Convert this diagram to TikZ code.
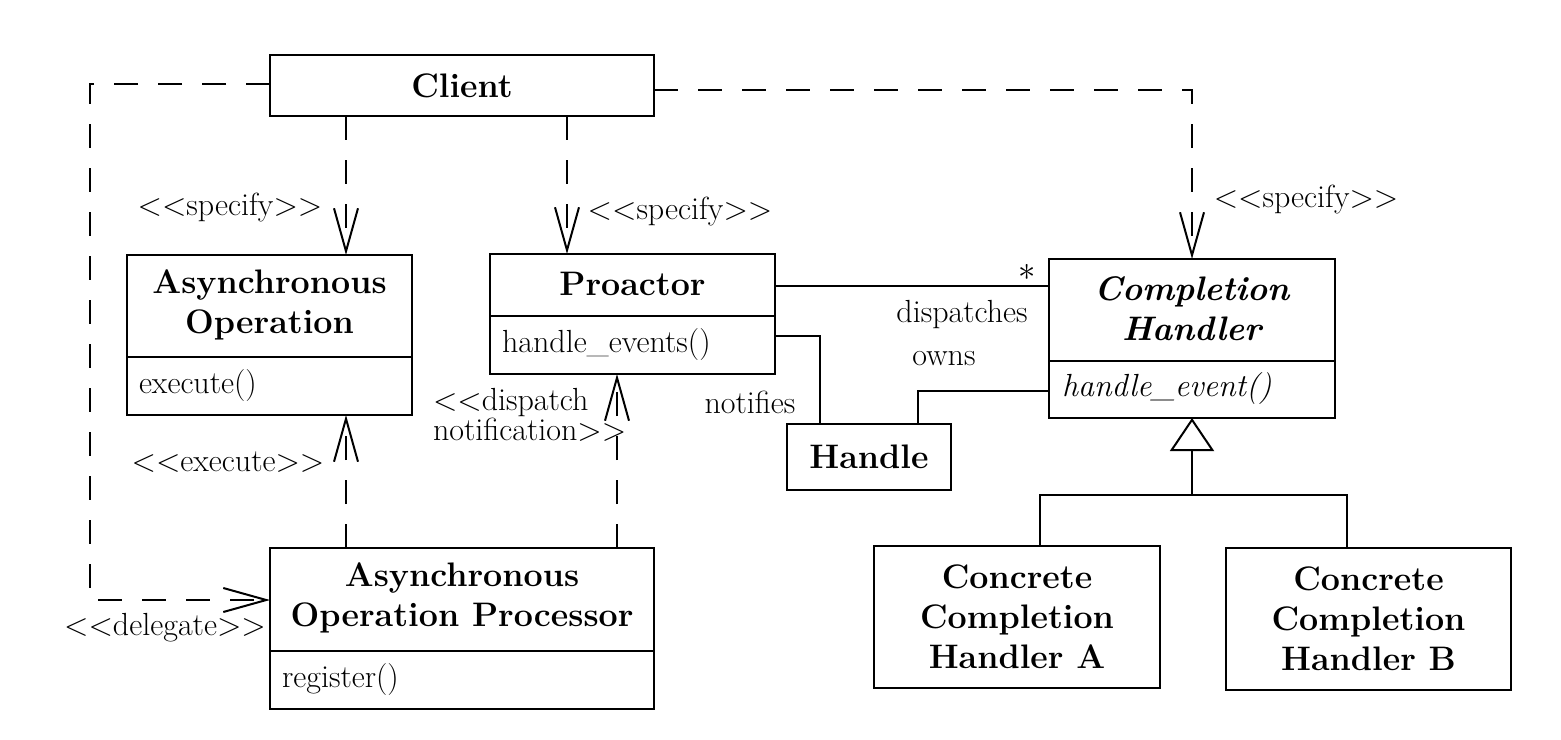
\documentclass[tikz,border=0pt]{standalone}
\usepackage{fontspec}
\usetikzlibrary{arrows.meta}
\newcommand\LLt{<\kern0pt<}
\newcommand\GGt{>\kern0pt>}
\begin{document}
\begin{tikzpicture}[x=0.5pt,y=-0.5pt,line width=1pt,
  box/.style={draw,line width=1pt,inner sep=0pt,outer sep=0pt},
  ttl/.style={font=\fontsize{17}{20}\selectfont\bfseries,align=center,inner sep=0pt},
  ittl/.style={font=\fontsize{17}{20}\selectfont\bfseries\itshape,align=center,inner sep=0pt},
  mth/.style={font=\fontsize{16}{19}\selectfont,anchor=west,inner sep=0pt},
  lbl/.style={font=\fontsize{16}{19}\selectfont,inner sep=0pt},
  dep/.style={dash pattern=on 12pt off 10pt,-{Straight Barb[length=21.5pt,width=12pt]}},
  gen/.style={-{Triangle[open,length=16.5pt,width=22pt,fill=white]}}]
\useasboundingbox (0,0) rectangle (1561,739);
% boxes
\node[box,minimum width=192pt,minimum height=30.5pt] (client) at (462,85.5) {};
\node[ttl] (clientT) at (client.center) {Client};
\node[box,minimum width=142.5pt,minimum height=80pt] (asop) at (269.5,335) {};
\node[ttl] (asopT) at (269.5,305) {Asynchronous\\Operation};
\draw ([yshift=-51pt]asop.north west) -- ([yshift=-51pt]asop.north east);
\node[mth] (asopM) at (138,386) {execute()};
\node[box,minimum width=142.5pt,minimum height=60pt] (proactor) at (632.5,314) {};
\node[ttl] (proactorT) at (632.5,284) {Proactor};
\draw ([yshift=-31pt]proactor.north west) -- ([yshift=-31pt]proactor.north east);
\node[mth] (proactorM) at (501,345) {handle\_events()};
\node[box,minimum width=143pt,minimum height=79.5pt] (compH) at (1192,338.5) {};
\node[ittl] (compHT) at (1192,308.5) {Completion\\Handler};
\draw ([yshift=-51pt]compH.north west) -- ([yshift=-51pt]compH.north east);
\node[mth,font=\fontsize{16}{19}\selectfont\itshape] (compHM) at (1061,389) {handle\_event()};
\node[box,minimum width=82pt,minimum height=33pt] (handle) at (869,457) {};
\node[ttl] (handleT) at (handle.center) {Handle};
\node[box,minimum width=192pt,minimum height=80.5pt] (aop) at (462,628.5) {};
\node[ttl] (aopT) at (462,598) {Asynchronous\\Operation Processor};
\draw ([yshift=-51.5pt]aop.north west) -- ([yshift=-51.5pt]aop.north east);
\node[mth] (aopM) at (281,680) {register()};
\node[box,minimum width=143pt,minimum height=71pt] (ccha) at (1017,617) {};
\node[ttl] (cchaT) at (ccha.center) {Concrete\\Completion\\Handler A};
\node[box,minimum width=142.5pt,minimum height=71pt] (cchb) at (1368.5,619) {};
\node[ttl] (cchbT) at (cchb.center) {Concrete\\Completion\\Handler B};
% dependencies
\draw[dep] ([xshift=-58pt]client.south) -- ([xshift=38.25pt]asop.north);
\draw[dep] ([xshift=52.5pt]client.south) -- ([xshift=-32.75pt]proactor.north);
\draw[dep] ([yshift=-2.25pt]client.east) -| (compH.north);
\draw[dep] ([yshift=0.75pt]client.west) -- ++(-180,0) |- ([yshift=14.25pt]aop.west);
\draw[dep] ([xshift=-58pt]aop.north) -- ([xshift=38.25pt]asop.south);
\draw[dep] ([xshift=77.5pt]aop.north) -- ([xshift=-7.75pt]proactor.south);
% associations
\draw ([yshift=14pt]proactor.east) -- ([yshift=26.25pt]compH.west);
\draw ([yshift=-11pt]proactor.east) -| ([xshift=-24.5pt]handle.north);
\draw ([yshift=-26.25pt]compH.west) -| ([xshift=24.5pt]handle.north);
% generalization
\coordinate (jn) at (1192,495);
\draw[gen] (jn) -- (compH.south);
\draw ([xshift=11.5pt]ccha.north) |- (jn) -| ([xshift=-10.75pt]cchb.north);
% labels
\node[lbl] (l1) at (230,208) {\LLt specify\GGt};
\node[lbl] (l2) at (680,212) {\LLt specify\GGt};
\node[lbl] (l3) at (1306,200) {\LLt specify\GGt};
\node[lbl] (l4) at (228,462) {\LLt execute\GGt};
\node[lbl] (l5) at (165,628) {\LLt delegate\GGt};
\node[lbl,align=left,anchor=west,font=\fontsize{16}{15}\selectfont] (l6) at (432,415) {\LLt dispatch\\notification\GGt};
\node[lbl] (l7) at (962,315) {dispatches};
\node[lbl] (l8) at (944,359) {owns};
\node[lbl] (l9) at (750,402) {notifies};
\node[lbl] (l10) at (1027,272) {$\ast$};
\end{tikzpicture}
\end{document}
